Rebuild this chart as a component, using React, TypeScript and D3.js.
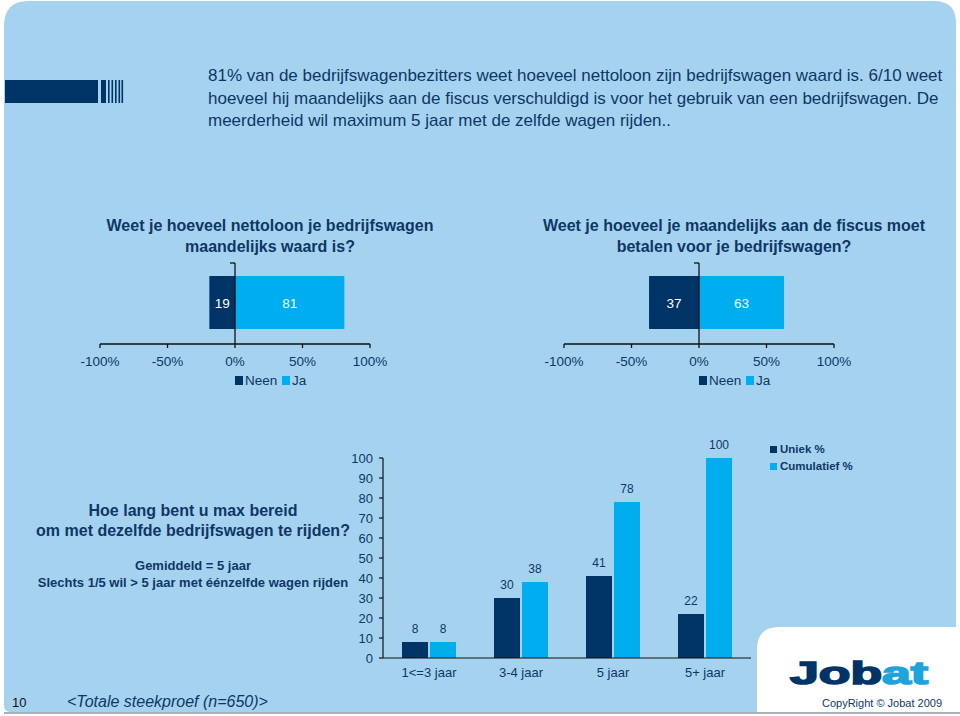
import React from "react";
import * as d3 from "d3";

// ---------- data ----------
const introLines = [
  "81% van de bedrijfswagenbezitters weet hoeveel nettoloon zijn bedrijfswagen waard is. 6/10 weet",
  "hoeveel hij maandelijks aan de fiscus verschuldigd is voor het gebruik van een bedrijfswagen. De",
  "meerderheid wil maximum 5 jaar met de zelfde wagen rijden..",
];
const questionTitles = [
  ["Weet je hoeveel nettoloon je bedrijfswagen", "maandelijks waard is?"],
  ["Weet je hoeveel je maandelijks aan de fiscus moet", "betalen voor je bedrijfswagen?"],
];
const neenValues = [19, 37];
const jaValues = [81, 63];
const divergingTicks = [-100, -50, 0, 50, 100];
const divergingLegend = ["Neen", "Ja"];

const durationCategories = ["1<=3 jaar", "3-4 jaar", "5 jaar", "5+ jaar"];
const uniekValues = [8, 30, 41, 22];
const cumulatiefValues = [8, 38, 78, 100];
const durationLegend = ["Uniek %", "Cumulatief %"];
const durationQuestion = ["Hoe lang bent u max bereid", "om met dezelfde bedrijfswagen te rijden?"];
const durationNotes = ["Gemiddeld = 5 jaar", "Slechts 1/5 wil > 5 jaar met éénzelfde wagen rijden"];

// ---------- style ----------
const NAVY = "#003366";
const CYAN = "#00AEEF";
const PANEL = "#A5D3EF";
const TEXT = "#0F3667";
const FONT = "'Liberation Sans', Arial, sans-serif";

function Diverging({ idx, zeroX }: { idx: number; zeroX: number }) {
  const x = d3.scaleLinear().domain([-100, 100]).range([zeroX - 135, zeroX + 135]);
  const barTop = 276;
  const barBottom = 329;
  const axisY = 344;
  const neen = neenValues[idx];
  const ja = jaValues[idx];
  const cy = (barTop + barBottom) / 2;
  const legendX = zeroX;
  return (
    <g fontFamily={FONT}>
      {questionTitles[idx].map((t, i) => (
        <text key={i} x={zeroX + 35} y={231 + i * 21} textAnchor="middle" fontSize={16} fontWeight="bold" fill={TEXT}>
          {t}
        </text>
      ))}
      <rect x={x(-neen)} y={barTop} width={x(0) - x(-neen)} height={barBottom - barTop} fill={NAVY} />
      <rect x={x(0)} y={barTop} width={x(ja) - x(0)} height={barBottom - barTop} fill={CYAN} />
      <text x={(x(-neen) + x(0)) / 2} y={cy + 5} textAnchor="middle" fontSize={13.5} fill="#fff">{neen}</text>
      <text x={(x(ja) + x(0)) / 2} y={cy + 5} textAnchor="middle" fontSize={13.5} fill="#eefaff">{ja}</text>
      {/* category axis */}
      <line x1={x(0)} x2={x(0)} y1={263} y2={axisY} stroke="#111" strokeWidth={1.3} />
      <line x1={x(0) - 5} x2={x(0)} y1={263} y2={263} stroke="#111" strokeWidth={1.3} />
      {/* value axis */}
      <line x1={x(-100)} x2={x(100)} y1={axisY} y2={axisY} stroke="#111" strokeWidth={1.3} />
      {divergingTicks.map((t) => (
        <g key={t}>
          <line x1={x(t)} x2={x(t)} y1={axisY} y2={axisY + 4} stroke="#111" strokeWidth={1.3} />
          <text x={x(t)} y={366} textAnchor="middle" fontSize={13.5} fill={TEXT}>{`${t}%`}</text>
        </g>
      ))}
      {/* legend */}
      <rect x={legendX} y={376} width={8} height={9} fill={NAVY} />
      <text x={legendX + 10} y={385} fontSize={13.5} fill={TEXT}>{divergingLegend[0]}</text>
      <rect x={legendX + 47} y={376} width={8} height={9} fill={CYAN} />
      <text x={legendX + 57} y={385} fontSize={13.5} fill={TEXT}>{divergingLegend[1]}</text>
    </g>
  );
}

function DurationChart() {
  const left = 383;
  const right = 751;
  const y = d3.scaleLinear().domain([0, 100]).range([658, 458]);
  const x0 = d3.scaleBand().domain(durationCategories).range([left, right]);
  const barW = 26;
  const gap = 2;
  const ticks = y.ticks(10);
  return (
    <g fontFamily={FONT}>
      {durationQuestion.map((t, i) => (
        <text key={i} x={193} y={516 + i * 20} textAnchor="middle" fontSize={16} fontWeight="bold" fill={TEXT}>{t}</text>
      ))}
      {durationNotes.map((t, i) => (
        <text key={i} x={193} y={570 + i * 17} textAnchor="middle" fontSize={13} fontWeight="bold" fill={TEXT}>{t}</text>
      ))}
      <line x1={left} x2={left} y1={y(100)} y2={y(0)} stroke="#111" strokeWidth={1.2} />
      {ticks.map((t) => (
        <g key={t}>
          <line x1={left - 4} x2={left} y1={y(t)} y2={y(t)} stroke="#111" strokeWidth={1.2} />
          <text x={373} y={y(t) + 5} textAnchor="end" fontSize={13} fill={TEXT}>{t}</text>
        </g>
      ))}
      {durationCategories.map((c, i) => {
        const cx = (x0(c) as number) + x0.bandwidth() / 2;
        const ux = cx - gap / 2 - barW;
        const cxx = cx + gap / 2;
        return (
          <g key={c}>
            <rect x={ux} y={y(uniekValues[i])} width={barW} height={y(0) - y(uniekValues[i])} fill={NAVY} />
            <rect x={cxx} y={y(cumulatiefValues[i])} width={barW} height={y(0) - y(cumulatiefValues[i])} fill={CYAN} />
            <text x={ux + barW / 2} y={y(uniekValues[i]) - 9} textAnchor="middle" fontSize={12} fill={TEXT}>{uniekValues[i]}</text>
            <text x={cxx + barW / 2} y={y(cumulatiefValues[i]) - 9} textAnchor="middle" fontSize={12} fill={TEXT}>{cumulatiefValues[i]}</text>
            <text x={cx} y={677} textAnchor="middle" fontSize={13} fill={TEXT}>{c}</text>
          </g>
        );
      })}
      <line x1={left} x2={right} y1={y(0)} y2={y(0)} stroke="#111" strokeWidth={1.2} />
      {durationLegend.map((l, i) => (
        <g key={l}>
          <rect x={770} y={446 + i * 17} width={7} height={7} fill={i === 0 ? NAVY : CYAN} />
          <text x={780} y={453 + i * 17} fontSize={11.5} fontWeight="bold" fill={TEXT}>{l}</text>
        </g>
      ))}
    </g>
  );
}

export default function App() {
  const panelPath = "M4,26 Q4,1 29,1 L934,1 Q956,1 956,23 L956,712 L10,712 Q4,712 4,704 Z";
  const logoBox = "M757,716 L757,649 Q757,627 779,627 L960,627 L960,716 Z";
  const stripes = [108, 111.5, 115, 118.5, 121.5];
  return (
    <svg width={960} height={716} style={{ position: "absolute", left: 0, top: 0, background: "#fff" }}>
      <path d={panelPath} fill={PANEL} />
      <path d={logoBox} fill="#fff" />
      <line x1={4} x2={960} y1={713} y2={713} stroke="#8f9aa3" strokeWidth={1.5} />
      {/* decorative bar */}
      <rect x={5} y={80} width={93} height={23} fill={NAVY} />
      <rect x={101} y={80} width={5} height={23} fill={NAVY} />
      {stripes.map((s) => (
        <rect key={s} x={s} y={80} width={1.6} height={23} fill={NAVY} />
      ))}
      <g fontFamily={FONT} fontSize={17} fill={TEXT}>
        {introLines.map((l, i) => (
          <text key={i} x={208} y={81 + i * 22.5}>{l}</text>
        ))}
      </g>
      <Diverging idx={0} zeroX={235} />
      <Diverging idx={1} zeroX={699} />
      <DurationChart />
      {/* logo */}
      <text x={790} y={684} fontFamily={FONT} fontWeight="bold" fontSize={32} textLength={138} lengthAdjust="spacingAndGlyphs" strokeWidth={1.6} stroke={NAVY}>
        <tspan fill={NAVY} stroke={NAVY}>Job</tspan>
        <tspan fill="#1EA3DD" stroke="#1EA3DD">at</tspan>
      </text>
      <g fontFamily={FONT}>
        <text x={12} y={707} fontSize={13} fill="#111">10</text>
        <text x={67} y={707} fontSize={16} fontStyle="italic" fill={TEXT}>{"<Totale steekproef (n=650)>"}</text>
        <text x={942} y={707} textAnchor="end" fontSize={11} fill={TEXT}>CopyRight © Jobat 2009</text>
      </g>
    </svg>
  );
}
